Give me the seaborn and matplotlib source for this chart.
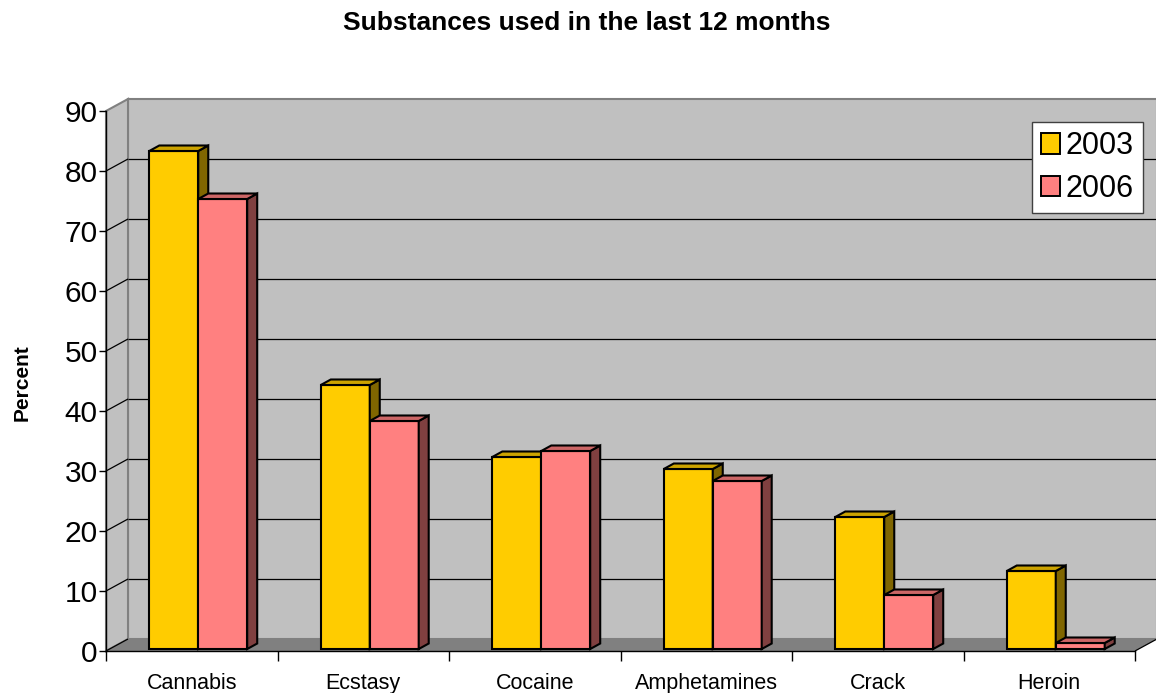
import numpy as np
import pandas as pd
import matplotlib
matplotlib.use("Agg")
import matplotlib.pyplot as plt
import matplotlib.transforms as mtransforms
from matplotlib.patches import Polygon, Rectangle
from matplotlib.colors import to_rgba
import seaborn as sns

# Data
substances = ["Cannabis", "Ecstasy", "Cocaine", "Amphetamines", "Crack", "Heroin"]
years = ["2003", "2006"]
pct_2003 = [83, 44, 32, 30, 22, 13]
pct_2006 = [75, 38, 33, 28, 9, 1]
y_ticks = list(range(0, 100, 10))

# Face colours of the pseudo-3D bars
front_colors = {"2003": "#FFCC00", "2006": "#FF8080"}
side_colors = {"2003": "#806600", "2006": "#804040"}
top_colors = {"2003": "#CCA300", "2006": "#CC6666"}

df = pd.DataFrame({
    "substance": substances * 2,
    "year": [years[0]] * len(substances) + [years[1]] * len(substances),
    "percent": pct_2003 + pct_2006,
})

sns.set_style("white")
plt.rcParams["font.family"] = ["Liberation Sans", "DejaVu Sans"]
plt.rcParams["text.color"] = "black"
plt.rcParams["xtick.color"] = "black"
plt.rcParams["ytick.color"] = "black"
plt.rcParams["xtick.labelcolor"] = "black"
plt.rcParams["ytick.labelcolor"] = "black"

W, H = 1156, 693
fig = plt.figure(figsize=(W / 100, H / 100), dpi=100)
fig.patch.set_facecolor("white")
ax = fig.add_axes([106 / W, 42 / H, 1029 / W, 540 / H])
ax.set_facecolor("none")

EDGE_LW = 1.5
sns.barplot(data=df, x="substance", y="percent", hue="year",
            order=substances, hue_order=years, palette=front_colors,
            width=0.571, saturation=1, edgecolor="black", linewidth=EDGE_LW,
            legend=False, ax=ax)
ax.set_xlim(-0.5, len(substances) - 0.5)
ax.set_ylim(0, 90)

# depth offsets in pixels (right, up)
WALL = np.array([22.0, 12.0])
BAR_OFF = np.array([6.5, 2.0])
BAR_DEPTH = np.array([10.0, 5.5])
ident = mtransforms.IdentityTransform()


def disp(x, y, off=(0.0, 0.0)):
    return ax.transData.transform((x, y)) + np.asarray(off)


def poly(pts, z, **kw):
    p = Polygon(np.array(pts), closed=True, transform=ident, clip_on=False,
                zorder=z, **kw)
    ax.add_patch(p)
    return p


def seg(p0, p1, z, **kw):
    ax.plot([p0[0], p1[0]], [p0[1], p1[1]], transform=ident, clip_on=False,
            zorder=z, solid_capstyle="butt", **kw)


x0, x1 = ax.get_xlim()
y0, y1 = ax.get_ylim()

# walls and floor
poly([disp(x0, y0, WALL), disp(x1, y0, WALL), disp(x1, y1, WALL), disp(x0, y1, WALL)],
     0.1, facecolor="#C0C0C0", edgecolor="#808080", linewidth=1.5)
poly([disp(x0, y0), disp(x0, y1), disp(x0, y1, WALL), disp(x0, y0, WALL)],
     0.2, facecolor="#C0C0C0", edgecolor="#808080", linewidth=1.5)
poly([disp(x0, y0), disp(x1, y0), disp(x1, y0, WALL), disp(x0, y0, WALL)],
     0.3, facecolor="#808080", edgecolor="none")

# gridlines on back and side walls
for v in y_ticks[1:-1]:
    seg(disp(x0, v, WALL), disp(x1, v, WALL), 0.5, color="black", linewidth=0.9)
    seg(disp(x0, v), disp(x0, v, WALL), 0.5, color="black", linewidth=0.9)
seg(disp(x0, y0), disp(x0, y0, WALL), 0.5, color="black", linewidth=0.9)
seg(disp(x1, y0), disp(x1, y0, WALL), 0.5, color="black", linewidth=0.9)

# turn the seaborn bars into boxes
bar_shift = mtransforms.ScaledTranslation(BAR_OFF[0] / 100, BAR_OFF[1] / 100,
                                          fig.dpi_scale_trans)
for p in list(ax.patches):
    if not isinstance(p, Rectangle):
        continue
    fc = p.get_facecolor()
    year = None
    for yr in years:
        if np.allclose(fc, to_rgba(front_colors[yr]), atol=0.02):
            year = yr
    if year is None:
        continue
    z = 5 + years.index(year)
    p.set_transform(ax.transData + bar_shift)
    p.set_zorder(z)
    p.set_clip_on(False)
    p.set_joinstyle("miter")
    bx, bw, bh = p.get_x(), p.get_width(), p.get_height()
    front_br = disp(bx + bw, 0, BAR_OFF)
    front_tr = disp(bx + bw, bh, BAR_OFF)
    front_tl = disp(bx, bh, BAR_OFF)
    poly([front_br, front_tr, front_tr + BAR_DEPTH, front_br + BAR_DEPTH], z,
         facecolor=side_colors[year], edgecolor="black", linewidth=EDGE_LW,
         joinstyle="miter")
    poly([front_tl, front_tr, front_tr + BAR_DEPTH, front_tl + BAR_DEPTH], z,
         facecolor=top_colors[year], edgecolor="black", linewidth=EDGE_LW,
         joinstyle="miter")

# axes, ticks and labels
for s in ["top", "right"]:
    ax.spines[s].set_visible(False)
for s in ["left", "bottom"]:
    ax.spines[s].set_color("black")
    ax.spines[s].set_linewidth(1.0)
    ax.spines[s].set_zorder(7)

ax.set_yticks(y_ticks)
ax.set_yticklabels([str(v) for v in y_ticks])
ax.tick_params(axis="y", which="major", direction="out", length=5, width=1,
               color="black", labelcolor="black", labelsize=21.5, pad=1, left=True)
ax.set_xticks(range(len(substances)))
ax.set_xticklabels(substances)
ax.set_xticks(np.arange(x0, x1 + 0.01, 1.0), minor=True)
ax.tick_params(axis="x", which="major", length=0, labelsize=15.5, pad=16,
               labelcolor="black")
ax.tick_params(axis="x", which="minor", direction="out", length=7, width=1,
               color="black", bottom=True)
ax.set_xlabel("")
ax.set_ylabel("")

fig.text(22 / W, 1 - 383 / H, "Percent", rotation=90, ha="center", va="center",
         fontsize=15, fontweight="bold", color="black")
fig.text(587 / W, 1 - 23 / H, "Substances used in the last 12 months",
         ha="center", va="center", fontsize=19, fontweight="bold", color="black")

handles = [Rectangle((0, 0), 1, 1, facecolor=front_colors[y], edgecolor="black",
                     linewidth=1.4) for y in years]
leg = ax.legend(handles, years, loc="upper right",
                bbox_to_anchor=(1143 / W, 1 - 122 / H),
                bbox_transform=fig.transFigure, fontsize=22, frameon=True,
                fancybox=False, edgecolor="#404040", framealpha=1,
                handlelength=0.6, handleheight=0.65, handletextpad=0.2,
                borderpad=0.3, labelspacing=0.42, borderaxespad=0)
for t in leg.get_texts():
    t.set_color("black")
leg.get_frame().set_linewidth(1.0)
leg.set_zorder(10)

fig.savefig("out.png", dpi=100)
